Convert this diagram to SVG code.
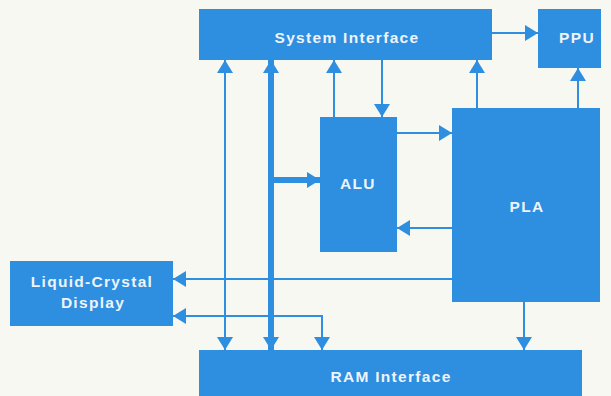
<svg xmlns="http://www.w3.org/2000/svg" width="611" height="396" viewBox="0 0 611 396">
<style>
.box{fill:#2e8ee0}
.lbl{font-family:"Liberation Sans",Arial,sans-serif;font-weight:bold;font-size:15.5px;fill:#eef4fb;text-anchor:middle;letter-spacing:1.3px}
.c{fill:none;stroke:#2e8ee0;stroke-width:2}
.t{fill:none;stroke:#2e8ee0;stroke-width:6}
</style>
<defs>
<marker id="ah" markerUnits="userSpaceOnUse" markerWidth="13" markerHeight="16" refX="13" refY="8" orient="auto-start-reverse" viewBox="0 0 13 16">
<path d="M0,0 L13,8 L0,16 z" fill="#2e8ee0"/>
</marker>
</defs>
<rect width="611" height="396" fill="#f8f8f3"/>
<g id="connectors">
<path class="c" d="M492,33 L538,33" marker-end="url(#ah)"/>
<path class="c" d="M225,60 L225,350" marker-start="url(#ah)" marker-end="url(#ah)"/>
<path class="t" d="M271,60 L271,350" marker-start="url(#ah)" marker-end="url(#ah)"/>
<path class="t" d="M271,180 L320,180" marker-end="url(#ah)"/>
<path class="c" d="M334,117 L334,60" marker-end="url(#ah)"/>
<path class="c" d="M382,60 L382,117" marker-end="url(#ah)"/>
<path class="c" d="M397,133 L452,133" marker-end="url(#ah)"/>
<path class="c" d="M452,228 L397,228" marker-end="url(#ah)"/>
<path class="c" d="M477,108 L477,60" marker-end="url(#ah)"/>
<path class="c" d="M578,108 L578,68" marker-end="url(#ah)"/>
<path class="c" d="M452,279 L173,279" marker-end="url(#ah)"/>
<path class="c" d="M173,316 L322,316 L322,350" marker-start="url(#ah)" marker-end="url(#ah)"/>
<path class="c" d="M524,302 L524,350" marker-end="url(#ah)"/>
</g>
<g id="system-interface"><rect class="box" x="199" y="9" width="293" height="51"/><text class="lbl" x="347" y="43">System Interface</text></g>
<g id="ppu"><rect class="box" x="538" y="9" width="63" height="59"/><text class="lbl" x="577" y="43">PPU</text></g>
<g id="alu"><rect class="box" x="320" y="117" width="77" height="135"/><text class="lbl" x="358" y="189">ALU</text></g>
<g id="pla"><rect class="box" x="452" y="108" width="148" height="194"/><text class="lbl" x="527" y="212">PLA</text></g>
<g id="lcd"><rect class="box" x="10" y="261" width="163" height="65"/><text class="lbl" x="92" y="287">Liquid-Crystal</text><text class="lbl" x="93" y="308">Display</text></g>
<g id="ram-interface"><rect class="box" x="199" y="350" width="383" height="46"/><text class="lbl" x="391" y="382">RAM Interface</text></g>
</svg>
